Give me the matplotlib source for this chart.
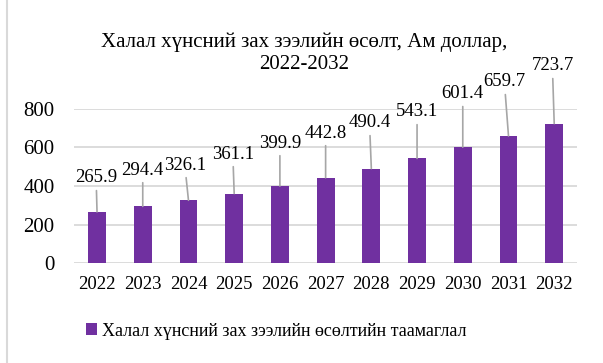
import matplotlib
matplotlib.use('Agg')
from matplotlib import pyplot as plt
from matplotlib.lines import Line2D

years = ['2022', '2023', '2024', '2025', '2026', '2027', '2028', '2029', '2030', '2031', '2032']
values = [265.9, 294.4, 326.1, 361.1, 399.9, 442.8, 490.4, 543.1, 601.4, 659.7, 723.7]

title = 'Халал хүнсний зах зээлийн өсөлт, Ам доллар,\n2022-2032'
series_name = 'Халал хүнсний зах зээлийн өсөлтийн таамаглал'

# где стоят подписи (смещение по x в долях категории, высота в единицах оси)
label_dx = [-0.02, 0.0, -0.08, -0.03, 0.0, 0.0, -0.04, 0.0, 0.0, -0.09, -0.04]
label_y = [442, 483, 509, 566, 623, 675, 727, 784, 878, 940, 1023]

BAR = '#7030A0'
GRID = '#D9D9D9'
LEADER = '#A6A6A6'


def build_graphics(output_png):
    plt.rcParams['font.family'] = ['Liberation Serif', 'DejaVu Serif']
    fig = plt.figure(figsize=(6.03, 3.63), dpi=100)
    ax = fig.add_axes([0.123, 0.275, 0.834, 0.425])

    x = list(range(len(years)))
    bars = ax.bar(x, values, width=0.39, color=BAR, zorder=3, label=series_name)

    for i, v in enumerate(values):
        ax.annotate(f'{v:.1f}', xy=(i, v), xytext=(i + label_dx[i], label_y[i]),
                    ha='center', va='center', fontsize=13.5, color='#000000',
                    annotation_clip=False,
                    arrowprops=dict(arrowstyle='-', color=LEADER, lw=1.2,
                                    shrinkA=1, shrinkB=0))

    ax.set_xlim(-0.5, 10.5)
    ax.set_ylim(0, 800)
    ax.set_yticks([0, 200, 400, 600, 800])
    ax.set_xticks(x)
    ax.set_xticklabels(years)
    ax.yaxis.grid(True, color=GRID, lw=1.3, zorder=0)
    ax.set_axisbelow(True)
    for s in ax.spines.values():
        s.set_visible(False)
    ax.tick_params(axis='both', length=0, colors='#000000')
    ax.tick_params(axis='y', pad=14, labelsize=15)
    ax.tick_params(axis='x', pad=9, labelsize=13.5)

    fig.text(0.505, 0.853, title, ha='center', va='center', fontsize=15,
             linespacing=1.2)

    fig.legend(handles=[bars], labels=[series_name], loc='center',
               bbox_to_anchor=(0.458, 0.088), frameon=False, fontsize=13,
               handlelength=0.6, handleheight=0.6, handletextpad=0.25)

    fig.add_artist(Line2D([0.012, 0.012], [0, 1], color=GRID, lw=1.5,
                          transform=fig.transFigure))

    fig.savefig(output_png, dpi=100)


def main():
    build_graphics('out.png')


if __name__ == '__main__':
    main()
